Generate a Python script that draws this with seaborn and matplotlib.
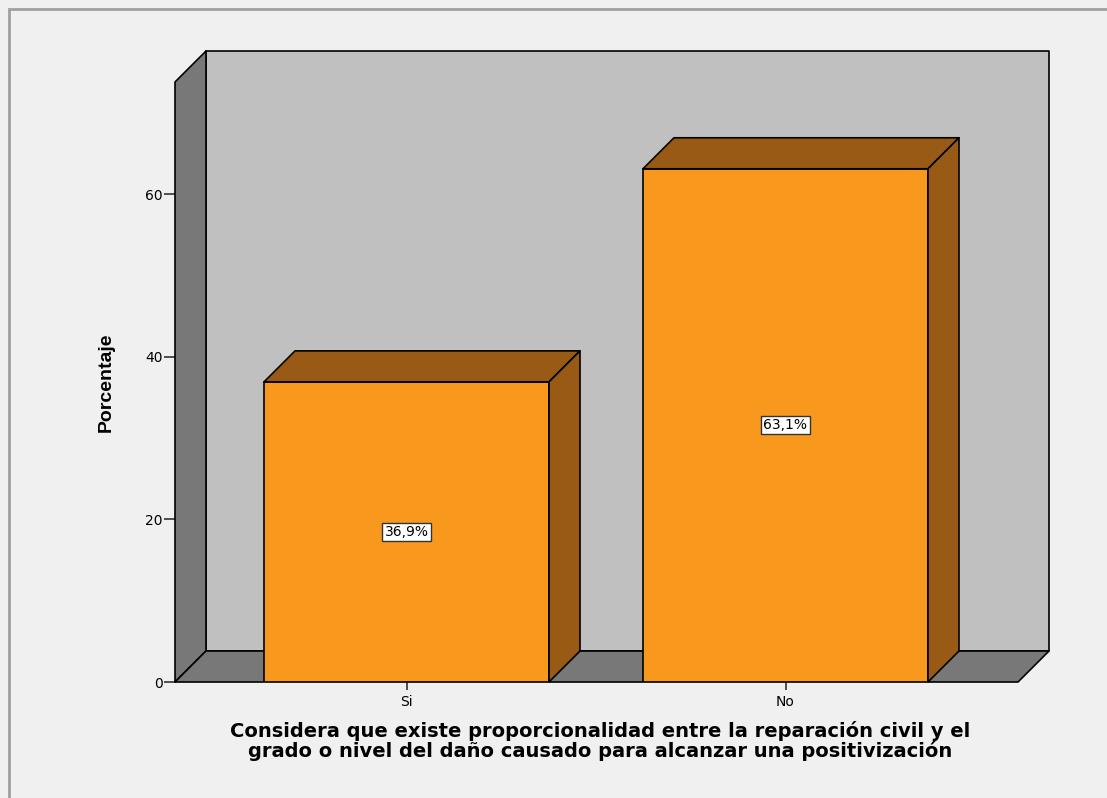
import matplotlib
matplotlib.use('Agg')
import matplotlib.pyplot as plt
import matplotlib.patches as mpatches
import seaborn as sns
import pandas as pd

# Data
categorias = ['Si', 'No']
porcentajes = [36.9, 63.1]
etiquetas = ['36,9%', '63,1%']
y_ticks = [0, 20, 40, 60]
titulo = ['Considera que existe proporcionalidad entre la reparación civil y el',
          'grado o nivel del daño causado para alcanzar una positivización']

sns.set_style('white')
plt.rcParams['font.family'] = ['DejaVu Sans']
plt.rcParams['text.color'] = 'black'
plt.rcParams['axes.labelcolor'] = 'black'
plt.rcParams['xtick.color'] = 'black'
plt.rcParams['ytick.color'] = 'black'

W, H = 1107, 798
fig = plt.figure(figsize=(W / 100, H / 100), dpi=100, facecolor='#f0f0f0')

# front frame of the 3D box in pixels
x0, x1, ybot, ytop = 175, 1018, 682, 82
ax = fig.add_axes([x0 / W, (H - ybot) / H, (x1 - x0) / W, (ybot - ytop) / H])
ax.set_facecolor('none')

px_x = 379.0          # pixels per category step
px_y = 488.0 / 60     # pixels per percent
depth = 31            # 3D depth in pixels
dx, dy = depth / px_x, depth / px_y

xmin = -(406.5 - x0) / px_x
xmax = 1 + (x1 - 785.5) / px_x
ymax = (ybot - ytop) / px_y

df = pd.DataFrame({'cat': categorias, 'pct': porcentajes})
sns.barplot(data=df, x='cat', y='pct', order=categorias, color='#f8991e',
            saturation=1, width=285 / px_x, edgecolor='black', linewidth=1.2,
            ax=ax, zorder=3)
ax.set_xlim(xmin, xmax)
ax.set_ylim(0, ymax)

wall = '#787878'
back = '#c0c0c0'
kw = dict(edgecolor='black', linewidth=1.2, clip_on=False, joinstyle='round')
# back wall
ax.add_patch(mpatches.Polygon([(xmin + dx, dy), (xmax + dx, dy), (xmax + dx, ymax + dy),
                               (xmin + dx, ymax + dy)], facecolor=back, zorder=0, **kw))
# left wall
ax.add_patch(mpatches.Polygon([(xmin, 0), (xmin, ymax), (xmin + dx, ymax + dy),
                               (xmin + dx, dy)], facecolor=wall, zorder=1, **kw))
# floor
ax.add_patch(mpatches.Polygon([(xmin, 0), (xmax, 0), (xmax + dx, dy),
                               (xmin + dx, dy)], facecolor=wall, zorder=1, **kw))

# 3D faces of the bars
for p, lab in zip(ax.patches[:len(categorias)], etiquetas):
    bx, bw, bh = p.get_x(), p.get_width(), p.get_height()
    ax.add_patch(mpatches.Polygon([(bx, bh), (bx + bw, bh), (bx + bw + dx, bh + dy),
                                   (bx + dx, bh + dy)], facecolor='#985a15', zorder=4, **kw))
    ax.add_patch(mpatches.Polygon([(bx + bw, 0), (bx + bw + dx, dy), (bx + bw + dx, bh + dy),
                                   (bx + bw, bh)], facecolor='#985a15', zorder=4, **kw))
    ax.text(bx + bw / 2, bh / 2, lab, ha='center', va='center', fontsize=10, zorder=6,
            bbox=dict(boxstyle='square,pad=0.15', facecolor='white', edgecolor='#333333', lw=1))

sns.despine(ax=ax, left=True, bottom=True)
ax.set_yticks(y_ticks)
ax.tick_params(axis='y', direction='out', length=8, width=1.2, color='#333333',
               labelsize=10, pad=1, left=True)
ax.tick_params(axis='x', direction='out', length=6, width=1.2, color='#333333',
               labelsize=10, pad=3, bottom=True)
ax.set_xlabel('')
ax.set_ylabel('Porcentaje', fontsize=14, fontweight='bold', family='Liberation Sans')
ax.yaxis.set_label_coords((115 - x0) / (x1 - x0), 0.5)

# two-line x title
for linea, yy in zip(titulo, [731, 751]):
    fig.text(600 / W, 1 - yy / H, linea, ha='center', va='center',
             fontsize=14, fontweight='bold')

# outer border
fig.add_artist(mpatches.Rectangle((9 / W, -0.1), 1.2, 1.1 - 9 / H, transform=fig.transFigure,
                                  facecolor='none', edgecolor='#a0a0a0', linewidth=2))

fig.savefig('out.png', dpi=100, facecolor=fig.get_facecolor())
